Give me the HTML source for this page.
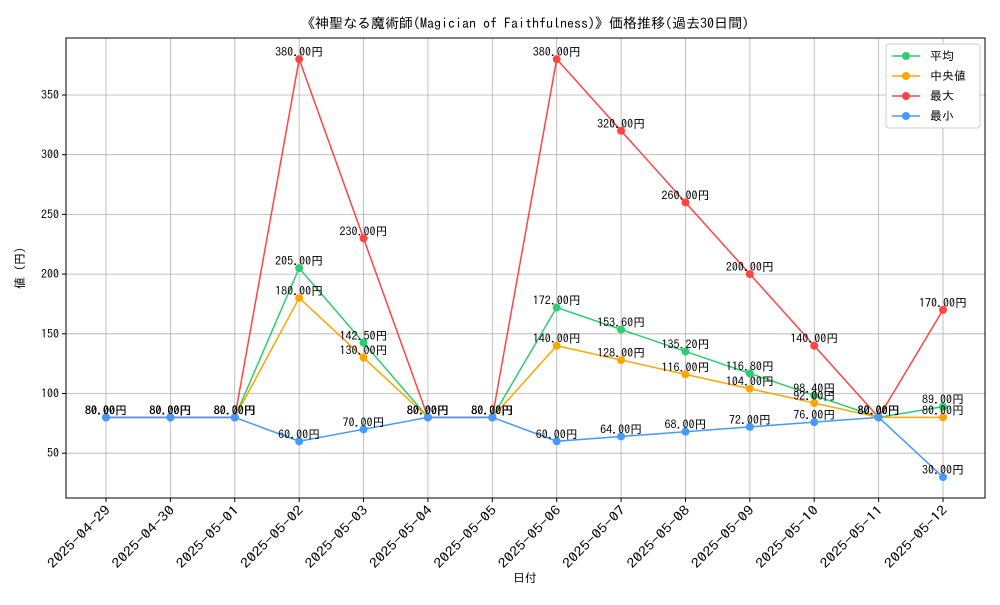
<!DOCTYPE html>
<html><head><meta charset="utf-8"><style>
body{margin:0;background:#fff}
svg text{font-family:"IPAGothic","Liberation Sans","Noto Sans CJK JP",sans-serif}
</style></head><body>
<svg id="c" width="1000" height="600" xmlns="http://www.w3.org/2000/svg"></svg>
<script>
const categories=["2025-04-29","2025-04-30","2025-05-01","2025-05-02","2025-05-03","2025-05-04","2025-05-05","2025-05-06","2025-05-07","2025-05-08","2025-05-09","2025-05-10","2025-05-11","2025-05-12"];
const avgValues=[80,80,80,205,142.5,80,80,172,153.6,135.2,116.8,98.4,80,89];
const medianValues=[80,80,80,180,130,80,80,140,128,116,104,92,80,80];
const maxValues=[80,80,80,380,230,80,80,380,320,260,200,140,80,170];
const minValues=[80,80,80,60,70,80,80,60,64,68,72,76,80,30];
const yTicks=[50,100,150,200,250,300,350];
const seriesNames=["平均","中央値","最大","最小"];
const NS="http://www.w3.org/2000/svg";
const svg=document.getElementById('c');
const L=66,R=985,T=38,B=498;
function x(i){return 106+i*(943-106)/(categories.length-1);}
function y(v){return 393.5-(v-100)*1.194;}
function el(t,a,p){const e=document.createElementNS(NS,t);for(const k in a)e.setAttribute(k,a[k]);(p||svg).appendChild(e);return e;}
yTicks.forEach(v=>{
  const g=el('line',{x1:L,x2:R,y1:y(v),y2:y(v),stroke:'#b0b0b0','stroke-width':0.8});
  
  
  el('line',{x1:L-4,x2:L,y1:y(v),y2:y(v),stroke:'#000'});
  const t=el('text',{x:L-7,y:y(v)+4,'text-anchor':'end','font-size':12});
  t.textContent=v;
  
  
});
categories.forEach((c,i)=>{
  const g=el('line',{x1:x(i),x2:x(i),y1:T,y2:B,stroke:'#b0b0b0','stroke-width':0.8});
  
  
  el('line',{x1:x(i),x2:x(i),y1:B,y2:B+4,stroke:'#000'});
  const t=el('text',{x:x(i)+5,y:B+13,'text-anchor':'end','font-size':13,textLength:82,lengthAdjust:'spacingAndGlyphs',transform:`rotate(-45 ${x(i)+5} ${B+13})`});
  t.textContent=c;
  
  
});
const frame=el('rect',{x:L,y:T,width:R-L,height:B-T,fill:'none',stroke:'#000','stroke-width':1});


const series=[[avgValues,'#2ecc71','avg'],[medianValues,'#ffa500','median'],[maxValues,'#ff4444','max'],[minValues,'#4499ff','min']];
series.forEach(([vals,col,nm])=>{
  const p=el('polyline',{points:vals.map((v,i)=>x(i)+','+y(v)).join(' '),fill:'none',stroke:col,'stroke-width':1.5});
  
  
  vals.forEach((v,i)=>{
    const d=el('circle',{cx:x(i),cy:y(v),r:4,fill:col});
    
    
  });
});
series.forEach(([vals,col,nm])=>{
  vals.forEach((v,i)=>{
    const t=el('text',{x:x(i),y:y(v)-3,'text-anchor':'middle','font-size':12,fill:'#000'});
    t.textContent=v.toFixed(2)+'円';
    
    
  });
});
const lg=el('g',{});


el('rect',{x:886,y:44,width:94,height:84,fill:'#fff',stroke:'#ccc',rx:3},lg);
series.forEach(([vals,col,nm],k)=>{
  const yy=56+k*20;
  el('line',{x1:892,x2:920,y1:yy,y2:yy,stroke:col,'stroke-width':1.5},lg);
  el('circle',{cx:906,cy:yy,r:4,fill:col},lg);
  const t=el('text',{x:930,y:yy+4,'font-size':12},lg);
  t.textContent=(k==1?' ':'')+seriesNames[k];
  
  
});
const ti=el('text',{x:525,y:28,'text-anchor':'middle','font-size':14});
ti.textContent='《神聖なる魔術師(Magician of Faithfulness)》価格推移(過去30日間)';


const xl=el('text',{x:525,y:582,'text-anchor':'middle','font-size':12});
xl.textContent='日付';


const yl=el('text',{x:24,y:268,'text-anchor':'middle','font-size':12,transform:'rotate(-90 24 268)'});
yl.textContent='値 (円)';


</script>
</body></html>
